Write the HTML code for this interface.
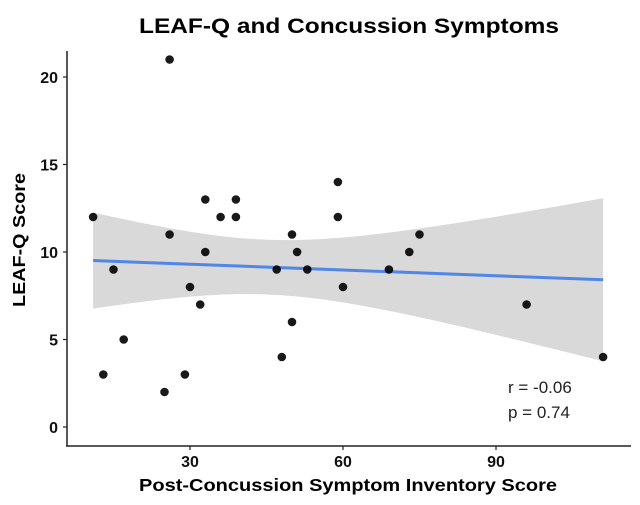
<!DOCTYPE html>
<html><head><meta charset="utf-8"><style>
body{margin:0;background:#fff;}
svg{display:block;font-family:"Liberation Sans",Arial,sans-serif;}
</style></head><body>
<svg id="chart" width="640" height="505" viewBox="0 0 640 505" xmlns="http://www.w3.org/2000/svg">
<text x="349" y="33" text-anchor="middle" font-size="21" font-weight="bold" textLength="420" lengthAdjust="spacingAndGlyphs">LEAF-Q and Concussion Symptoms</text>
<g id="ci"></g>
<g id="fit"></g>
<g id="pts"></g>
<g id="axes"></g>
<text x="348" y="491" text-anchor="middle" font-size="17.5" font-weight="bold" textLength="418" lengthAdjust="spacingAndGlyphs">Post-Concussion Symptom Inventory Score</text>
<text transform="translate(25,240) rotate(-90)" text-anchor="middle" font-size="17.5" font-weight="bold" textLength="134" lengthAdjust="spacingAndGlyphs">LEAF-Q Score</text>
<text x="508" y="393" font-size="17" fill="#222">r = -0.06</text>
<text x="508" y="418" font-size="17" fill="#222">p = 0.74</text>
</svg>
<script>
const xs=[11,13,15,17,25,26,26,29,30,32,33,33,36,39,39,47,48,50,50,51,53,59,59,60,69,73,75,96,111];
const ys=[12,3,9,5,2,11,21,3,8,7,10,13,12,13,12,9,4,11,6,10,9,14,12,8,9,10,11,7,4];
const xTicks=[30,60,90];
const yTicks=[0,5,10,15,20];
const NS="http://www.w3.org/2000/svg";
const sx=v=>190+(v-30)*5.1;
const sy=v=>427-v*17.5;
function mk(tag,attrs,parent){const e=document.createElementNS(NS,tag);for(const k in attrs)e.setAttribute(k,attrs[k]);parent.appendChild(e);return e;}
const n=xs.length;
const mx=xs.reduce((a,b)=>a+b,0)/n, my=ys.reduce((a,b)=>a+b,0)/n;
let sxx=0,sxy=0;for(let i=0;i<n;i++){sxx+=(xs[i]-mx)**2;sxy+=(xs[i]-mx)*(ys[i]-my);}
const b=sxy/sxx,a=my-b*mx;
let sse=0;for(let i=0;i<n;i++)sse+=(ys[i]-a-b*xs[i])**2;
const s=Math.sqrt(sse/(n-2)), t=2.052;
const x0=Math.min(...xs),x1=Math.max(...xs);
let up=[],lo=[];
for(let k=0;k<=60;k++){const x=x0+(x1-x0)*k/60;const yh=a+b*x;const se=s*Math.sqrt(1/n+(x-mx)**2/sxx);
up.push(sx(x)+','+sy(yh+t*se));lo.unshift(sx(x)+','+sy(yh-t*se));}
const band=mk('polygon',{points:up.concat(lo).join(' '),fill:'#d9d9d9'},document.getElementById('ci'));


const ln=mk('line',{x1:sx(x0),y1:sy(a+b*x0),x2:sx(x1),y2:sy(a+b*x1),stroke:'#4f86e8','stroke-width':3},document.getElementById('fit'));


const pg=document.getElementById('pts');
for(let i=0;i<n;i++){const c=mk('circle',{cx:sx(xs[i]),cy:sy(ys[i]),r:4.3,fill:'#000','fill-opacity':0.9},pg);

}
const ax=document.getElementById('axes');
mk('line',{x1:67,y1:51,x2:67,y2:446,stroke:'#222','stroke-width':1.5},ax);
mk('line',{x1:66,y1:446,x2:631,y2:446,stroke:'#222','stroke-width':1.5},ax);
yTicks.forEach(v=>{mk('line',{x1:63,y1:sy(v),x2:67,y2:sy(v),stroke:'#222','stroke-width':1.2},ax);
const tl=mk('text',{x:58,y:sy(v)+6,'text-anchor':'end','font-size':16,'font-weight':'bold',fill:'#111'},ax);tl.textContent=v;

});
xTicks.forEach(v=>{mk('line',{x1:sx(v),y1:446,x2:sx(v),y2:450,stroke:'#222','stroke-width':1.2},ax);
const tl=mk('text',{x:sx(v),y:467,'text-anchor':'middle','font-size':16,'font-weight':'bold',fill:'#111'},ax);tl.textContent=v;

});
</script>
</body></html>
